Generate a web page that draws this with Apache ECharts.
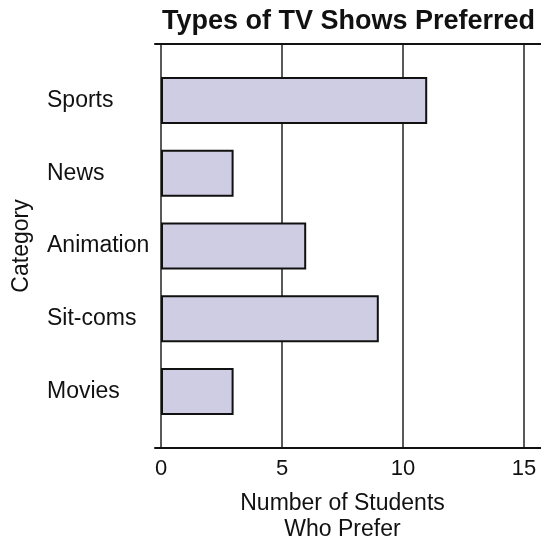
<!DOCTYPE html>
<html>
<head>
<meta charset="utf-8">
<script src="https://cdn.jsdelivr.net/npm/echarts@6/dist/echarts.min.js"></script>
<style>
  html, body { margin: 0; padding: 0; background: #fff; }
  #chart { width: 541px; height: 541px; }
</style>
</head>
<body>
<div id="chart"></div>
<script>
// Survey: which TV show type each student prefers
const categories = ['Sports', 'News', 'Animation', 'Sit-coms', 'Movies'];
const students = [11, 3, 6, 9, 3];
const xTicks = [0, 5, 10, 15];

const FONT = '"Liberation Sans", Arial, Helvetica, sans-serif';
const chart = echarts.init(document.getElementById('chart'), null, { renderer: 'canvas' });

chart.setOption({
  animation: false,
  backgroundColor: '#ffffff',
  title: {
    text: 'Types of TV Shows Preferred',
    left: 157,
    top: 3,
    textStyle: { fontFamily: FONT, fontSize: 27, fontWeight: 'bold', color: '#111' }
  },
  grid: [
    // bars and category labels
    { left: 161, width: 363, top: 64, height: 364, outerBoundsMode: 'none', containLabel: false },
    // vertical grid lines and value labels
    { left: 161, width: 363, top: 44, height: 404, outerBoundsMode: 'none', containLabel: false },
    // top and bottom frame rules
    { left: 155, right: 0, top: 44, height: 404, outerBoundsMode: 'none', containLabel: false }
  ],
  xAxis: [
    { gridIndex: 0, type: 'value', min: 0, max: 15, show: false },
    {
      gridIndex: 1, type: 'value', min: 0, max: 15, interval: 5,
      axisLine: { show: false },
      axisTick: { show: false },
      splitLine: { show: true, lineStyle: { color: '#222', width: 1.5 } },
      axisLabel: {
        margin: 10, fontFamily: FONT, fontSize: 22, color: '#111',
        formatter: v => xTicks.includes(v) ? String(v) : ''
      },
      name: 'Number of Students\nWho Prefer',
      nameLocation: 'middle',
      nameGap: 43,
      nameTextStyle: { fontFamily: FONT, fontSize: 23, color: '#111', lineHeight: 26 }
    },
    {
      gridIndex: 2, type: 'value', min: 0, max: 1, position: 'bottom',
      axisLine: { show: true, lineStyle: { color: '#111', width: 2 } },
      axisTick: { show: false }, axisLabel: { show: false }, splitLine: { show: false }
    },
    {
      gridIndex: 2, type: 'value', min: 0, max: 1, position: 'top',
      axisLine: { show: true, lineStyle: { color: '#111', width: 2 } },
      axisTick: { show: false }, axisLabel: { show: false }, splitLine: { show: false }
    }
  ],
  yAxis: [
    {
      gridIndex: 0, type: 'category', data: categories, inverse: true,
      axisLine: { show: false }, axisTick: { show: false },
      axisLabel: { margin: 114, align: 'left', fontFamily: FONT, fontSize: 23, color: '#111' },
      name: 'Category',
      nameLocation: 'middle',
      nameRotate: 90,
      nameGap: 128,
      nameTextStyle: { fontFamily: FONT, fontSize: 23, color: '#111' }
    },
    { gridIndex: 1, type: 'value', min: 0, max: 1, show: false },
    { gridIndex: 2, type: 'value', min: 0, max: 1, show: false }
  ],
  series: [
    {
      type: 'bar',
      xAxisIndex: 0,
      yAxisIndex: 0,
      data: students,
      barWidth: 47,
      itemStyle: { color: '#cfcde3', borderColor: '#111', borderWidth: 2 },
      z: 3
    }
  ]
});
</script>
</body>
</html>
